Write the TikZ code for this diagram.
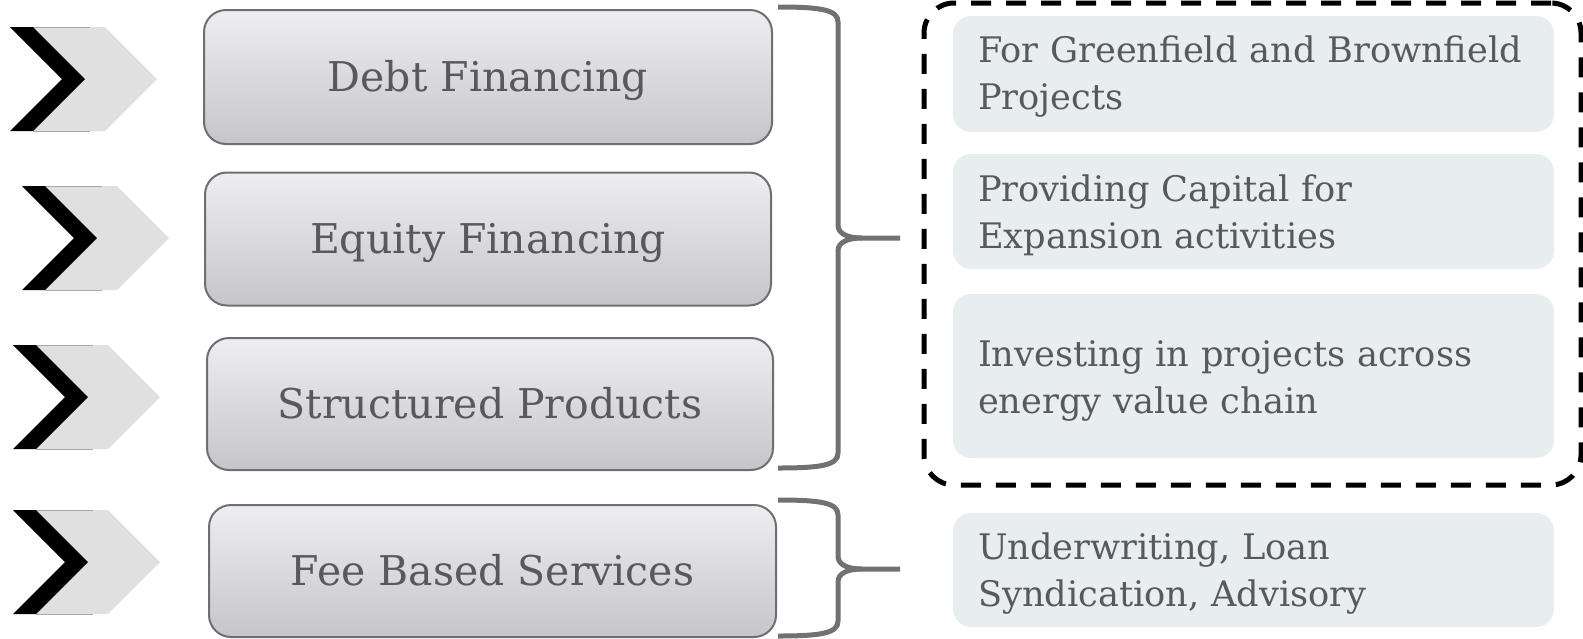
\documentclass[tikz,border=0pt]{standalone}
\usepackage{fontspec}
\setmainfont{DejaVu Serif}
\definecolor{txt}{HTML}{595959}
\definecolor{boxtop}{HTML}{EDEDF2}
\definecolor{boxbot}{HTML}{C5C5CA}
\definecolor{boxline}{HTML}{6E6E73}
\definecolor{lightfill}{HTML}{E8EDF0}
\definecolor{bracecol}{HTML}{707075}
\definecolor{chevgrey}{HTML}{E0E0E0}
\definecolor{chevedge}{HTML}{A8A8A8}
\tikzset{
  leftbox/.style={draw=boxline, line width=1pt, rounded corners=11pt,
    top color=boxtop, bottom color=boxbot, text=txt,
    font=\fontsize{20.5}{24}\selectfont, inner sep=0pt,
    text height=14.9pt, text depth=0pt},
  rbox/.style={fill=lightfill, rounded corners=9pt, minimum width=300.5pt, inner sep=0pt},
  rtext/.style={text=txt, font=\fontsize{17.6}{23.5}\selectfont, align=left,
    inner sep=0pt, text width=275.5pt},
  bracestyle/.style={draw=bracecol, line width=2.5pt, line join=round},
  dashbox/.style={draw=black, line width=2.5pt, rounded corners=15pt,
    dash pattern=on 10pt off 7.5pt, inner sep=0pt}
}
\begin{document}
\begin{tikzpicture}[x=0.5pt,y=-0.5pt]
\useasboundingbox (0,0) rectangle (1583,638);
% chevrons
\foreach \cx/\cy in {10/79, 22/238, 13/397, 13/562}{
  \fill[chevgrey] ({\cx+23},{\cy-52}) -- ({\cx+95},{\cy-52}) -- ({\cx+147},\cy) -- ({\cx+95},{\cy+52}) -- ({\cx+23},{\cy+52}) -- ({\cx+75},\cy) -- cycle;
  \draw[chevedge, line width=0.5pt] ({\cx+23},{\cy-52}) -- ({\cx+80},{\cy-52});
  \draw[chevedge, line width=0.5pt] ({\cx+23},{\cy+52}) -- ({\cx+80},{\cy+52});
  \fill[black] (\cx,{\cy-52}) -- ({\cx+23},{\cy-52}) -- ({\cx+75},\cy) -- ({\cx+23},{\cy+52}) -- (\cx,{\cy+52}) -- ({\cx+52},\cy) -- cycle;
}
% left boxes
\node[leftbox, minimum width=284pt, minimum height=67pt] (b1) at (488,77) {Debt Financing};
\node[leftbox, minimum width=283pt, minimum height=66.5pt] (b2) at (488,239) {Equity Financing};
\node[leftbox, minimum width=283pt, minimum height=66pt] (b3) at (490,404) {Structured Products};
\node[leftbox, minimum width=283.5pt, minimum height=66pt] (b4) at (492.5,571) {Fee Based Services};
% braces
\draw[bracestyle] (778,7) .. controls (822,7) and (838,10) .. (838,22) -- (838,225) .. controls (838,234) and (848,238) .. (862,238) -- (900,238);
\draw[bracestyle] (778,468) .. controls (822,468) and (838,465) .. (838,453) -- (838,251) .. controls (838,242) and (848,238) .. (862,238);
\draw[bracestyle] (778,500) .. controls (822,500) and (838,503) .. (838,515) -- (838,556) .. controls (838,565) and (848,569) .. (862,569) -- (900,569);
\draw[bracestyle] (778,636) .. controls (822,636) and (838,633) .. (838,621) -- (838,582) .. controls (838,573) and (848,569) .. (862,569);
% dashed frame
\node[dashbox, minimum width=328.5pt, minimum height=241pt] (frame) at (1252.5,244) {};
% right boxes
\node[rbox, minimum height=58pt] (r1) at (1253.5,74) {};
\node[rbox, minimum height=57.5pt] (r2) at (1253.5,211.5) {};
\node[rbox, minimum height=82pt] (r3) at (1253.5,376) {};
\node[rbox, minimum height=57pt] (r4) at (1253.5,570) {};
\node[rtext] (t1) at ([yshift=-1.5pt]r1.center) {For Greenfield and Brownfield\\Projects};
\node[rtext] (t2) at ([yshift=-2pt]r2.center) {Providing Capital for\\Expansion activities};
\node[rtext] (t3) at ([yshift=-2.5pt]r3.center) {Investing in projects across\\energy value chain};
\node[rtext] (t4) at ([yshift=-2pt]r4.center) {Underwriting, Loan\\Syndication, Advisory};
\end{tikzpicture}
\end{document}
